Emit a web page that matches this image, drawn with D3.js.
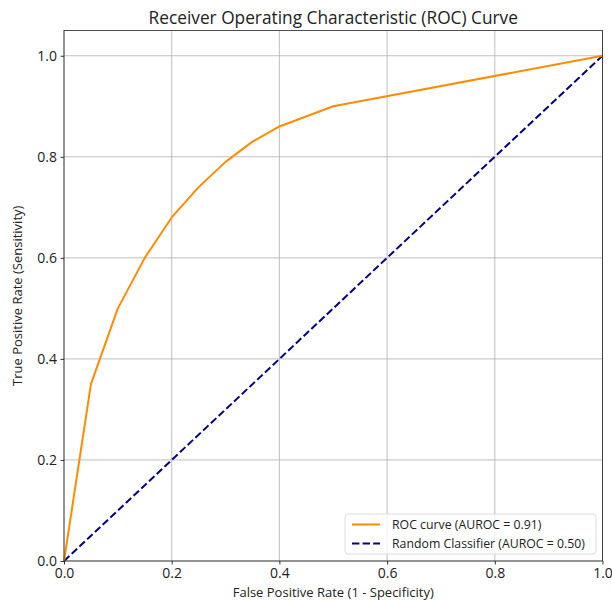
<!DOCTYPE html>
<html>
<head>
<meta charset="utf-8">
<title>ROC curve</title>
<style>
  html, body { margin: 0; padding: 0; background: #fff; }
  svg { display: block; font-family: "Open Sans", Roboto, sans-serif; }
</style>
</head>
<body>
<svg width="612" height="601"></svg>
<script src="https://cdn.jsdelivr.net/npm/d3@7"></script>
<script>
  // values
  var fpr = [0, 0.05, 0.1, 0.15, 0.2, 0.25, 0.3, 0.35, 0.4, 0.5, 1.0];
  var tpr = [0, 0.35, 0.5, 0.6, 0.68, 0.74, 0.79, 0.83, 0.86, 0.9, 1.0];
  var randomX = [0, 1];
  var randomY = [0, 1];
  var tickValues = [0, 0.2, 0.4, 0.6, 0.8, 1.0];
  var seriesNames = ['ROC curve (AUROC = 0.91)', 'Random Classifier (AUROC = 0.50)'];
  var seriesColors = ['#ff8c00', '#000080'];

  var svg = d3.select('svg');
  var mLeft = 64, mRight = 602.5, mTop = 30.5, mBottom = 561;

  var x = d3.scaleLinear().domain([0, 1]).range([mLeft, mRight]);
  var y = d3.scaleLinear().domain([0, 1.05]).range([mBottom, mTop]);

  // grid
  var grid = svg.append('g').attr('stroke', '#b0b0b0').attr('stroke-width', 0.8);
  tickValues.forEach(function(t) {
    grid.append('line').attr('x1', x(t)).attr('x2', x(t)).attr('y1', mTop).attr('y2', mBottom);
    grid.append('line').attr('x1', mLeft).attr('x2', mRight).attr('y1', y(t)).attr('y2', y(t));
  });

  // axes
  var xAxis = d3.axisBottom(x).tickValues(tickValues).tickFormat(d3.format('.1f')).tickSize(3.5).tickPadding(3.5);
  var yAxis = d3.axisLeft(y).tickValues(tickValues).tickFormat(d3.format('.1f')).tickSize(3.5).tickPadding(3.5);

  var gx = svg.append('g').attr('transform', 'translate(0,' + mBottom + ')').call(xAxis);
  var gy = svg.append('g').attr('transform', 'translate(' + mLeft + ',0)').call(yAxis);
  [gx, gy].forEach(function(g) {
    g.select('.domain').remove();
    g.selectAll('.tick line').attr('stroke', '#000').attr('stroke-width', 0.8);
    g.selectAll('.tick text').attr('fill', '#222').style('font-size', '14px').style('font-family', '"Open Sans", sans-serif');
  });

  // lines
  var line = d3.line().x(function(d) { return x(d[0]); }).y(function(d) { return y(d[1]); });

  svg.append('path')
    .datum(d3.zip(randomX, randomY))
    .attr('d', line)
    .attr('fill', 'none')
    .attr('stroke', seriesColors[1])
    .attr('stroke-width', 2)
    .attr('stroke-dasharray', '7.4,3.2');

  svg.append('path')
    .datum(d3.zip(fpr, tpr))
    .attr('d', line)
    .attr('fill', 'none')
    .attr('stroke', seriesColors[0])
    .attr('stroke-width', 2)
    .attr('stroke-linejoin', 'round');

  // frame
  svg.append('rect')
    .attr('x', mLeft).attr('y', mTop)
    .attr('width', mRight - mLeft).attr('height', mBottom - mTop)
    .attr('fill', 'none').attr('stroke', '#222').attr('stroke-width', 0.8);

  // title and labels
  svg.append('text')
    .attr('x', (mLeft + mRight) / 2).attr('y', 24)
    .attr('text-anchor', 'middle')
    .style('font-size', '17.3px').attr('fill', '#222')
    .text('Receiver Operating Characteristic (ROC) Curve');

  svg.append('text')
    .attr('x', (mLeft + mRight) / 2).attr('y', 597)
    .attr('text-anchor', 'middle')
    .style('font-size', '13px').attr('fill', '#222')
    .text('False Positive Rate (1 - Specificity)');

  svg.append('text')
    .attr('transform', 'translate(22,' + ((mTop + mBottom) / 2) + ') rotate(-90)')
    .attr('text-anchor', 'middle')
    .style('font-size', '13px').attr('fill', '#222')
    .text('True Positive Rate (Sensitivity)');

  // legend
  var lg = svg.append('g').attr('transform', 'translate(345,514)');
  lg.append('rect')
    .attr('width', 251).attr('height', 40).attr('rx', 3)
    .attr('fill', 'rgba(255,255,255,0.8)').attr('stroke', '#d6d6d6').attr('stroke-width', 0.8);
  seriesNames.forEach(function(name, i) {
    var yy = 10.5 + i * 19;
    lg.append('line')
      .attr('x1', 7).attr('x2', 35).attr('y1', yy).attr('y2', yy)
      .attr('stroke', seriesColors[i]).attr('stroke-width', 2)
      .attr('stroke-dasharray', i === 1 ? '7.4,3.2' : null);
    lg.append('text')
      .attr('x', 47).attr('y', yy + 4)
      .style('font-size', '12.3px').attr('fill', '#222')
      .text(name);
  });
</script>
</body>
</html>
